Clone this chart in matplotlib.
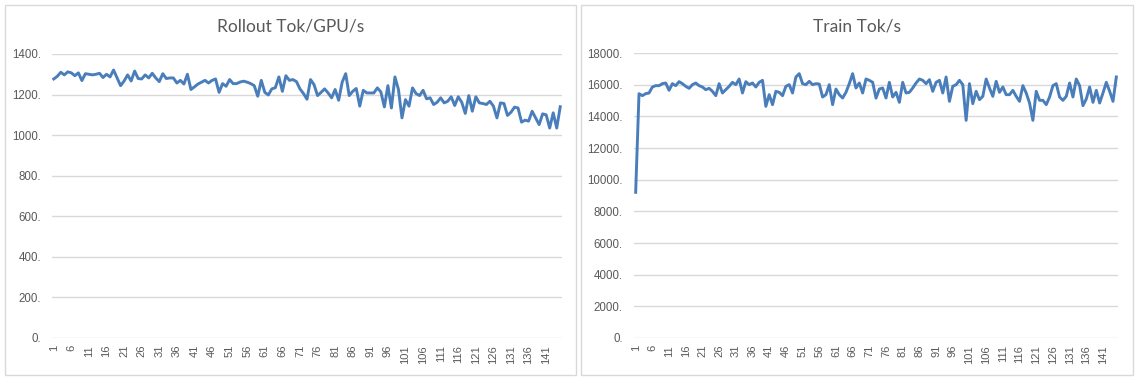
import numpy as np
import matplotlib
matplotlib.use('Agg')
import matplotlib.pyplot as plt
from matplotlib.patches import Rectangle

rollout = [1277, 1290, 1310, 1297, 1312, 1307, 1293, 1307, 1269, 1303,
           1300, 1297, 1300, 1305, 1284, 1300, 1287, 1321, 1282, 1244,
           1267, 1297, 1267, 1316, 1279, 1277, 1297, 1282, 1305, 1282,
           1264, 1303, 1279, 1282, 1282, 1257, 1270, 1252, 1300, 1225,
           1238, 1252, 1261, 1270, 1257, 1270, 1277, 1211, 1254, 1241,
           1274, 1254, 1254, 1262, 1266, 1261, 1254, 1244, 1192, 1270,
           1211, 1198, 1228, 1234, 1287, 1216, 1293, 1270, 1274, 1264,
           1228, 1205, 1177, 1274, 1249, 1195, 1211, 1228, 1208, 1184,
           1225, 1172, 1261, 1303, 1195, 1216, 1230, 1143, 1221, 1208,
           1208, 1208, 1233, 1213, 1139, 1244, 1134, 1287, 1225, 1085,
           1175, 1143, 1233, 1205, 1195, 1221, 1179, 1184, 1151, 1162,
           1184, 1159, 1167, 1189, 1146, 1189, 1162, 1107, 1195, 1118,
           1189, 1159, 1156, 1151, 1167, 1143, 1085, 1159, 1156, 1097,
           1113, 1138, 1134, 1064, 1074, 1069, 1118, 1085, 1052, 1105,
           1100, 1035, 1110, 1035, 1140]

train = [9200, 15432, 15305, 15432, 15474, 15853, 15937, 15937, 16063, 16105,
         15642, 16063, 15937, 16190, 16063, 15895, 15768, 16000, 16105, 15937,
         15853, 15684, 15768, 15579, 15305, 16063, 15474, 15684, 15895, 16147,
         16000, 16358, 15474, 16190, 16000, 16105, 15853, 16147, 16274, 14632,
         15368, 14737, 15579, 15516, 15305, 15895, 16000, 15474, 16484, 16695,
         16063, 16000, 16210, 16000, 16063, 16042, 15221, 15368, 16000, 14737,
         15726, 15368, 15158, 15516, 16063, 16695, 15789, 16105, 15474, 16358,
         16274, 16150, 15150, 15726, 15789, 15158, 16147, 15221, 15516, 14884,
         16147, 15474, 15516, 15789, 16105, 16358, 16274, 16063, 16316, 15579,
         16147, 16274, 15474, 16484, 14947, 15895, 16000, 16274, 16000, 13747,
         16063, 14800, 15579, 15053, 15263, 16358, 15789, 15263, 16210, 15516,
         15853, 15368, 15368, 15642, 15263, 14947, 15937, 15474, 14842, 13747,
         15579, 15011, 15011, 14737, 15221, 15937, 16063, 15221, 15011, 15263,
         16105, 15221, 16358, 15937, 14674, 15095, 15853, 14884, 15642, 14842,
         15474, 16147, 15579, 14947, 16484]

titles = ['Rollout Tok/GPU/s', 'Train Tok/s']
yticks_list = [list(range(0, 1401, 200)), list(range(0, 18001, 2000))]

W, H = 1142, 379
fig = plt.figure(figsize=(W / 100, H / 100), dpi=100)
fig.patch.set_facecolor('white')

line_color = '#4a7ebb'
grid_color = '#d9d9d9'
text_color = '#595959'

# outer chart boxes (pixels: x0, y0, x1, y1 from top-left)
boxes = [(5, 5, 576, 375), (581, 5, 1133, 375)]
# plot areas
areas = [(52, 54, 562, 338), (634, 53, 1118, 338)]

for k, series in enumerate([rollout, train]):
    bx0, by0, bx1, by1 = boxes[k]
    fig.add_artist(Rectangle((bx0 / W, 1 - by1 / H), (bx1 - bx0) / W, (by1 - by0) / H,
                             transform=fig.transFigure, fill=False,
                             edgecolor=grid_color, linewidth=1))
    x0, y0, x1, y1 = areas[k]
    ax = fig.add_axes([x0 / W, 1 - y1 / H, (x1 - x0) / W, (y1 - y0) / H])
    x = np.arange(1, len(series) + 1)
    ax.plot(x, series, color=line_color, linewidth=2.1, zorder=3)
    ax.set_xlim(0.5, len(series) + 0.5)
    yt = yticks_list[k]
    ax.set_ylim(yt[0], yt[-1])
    ax.set_yticks(yt)
    ax.set_yticklabels([f'{v}.' for v in yt], fontsize=8.3, color=text_color,
                       family='Liberation Sans')
    xt = list(range(1, len(series) + 1, 5))
    ax.set_xticks(xt)
    ax.set_xticklabels([str(v) for v in xt], rotation=90, fontsize=8,
                       color=text_color, family='Liberation Sans')
    ax.tick_params(axis='y', length=0, pad=8)
    ax.tick_params(axis='x', length=0, pad=5)
    ax.grid(axis='y', color=grid_color, linewidth=1)
    ax.set_axisbelow(True)
    for s in ax.spines.values():
        s.set_visible(False)
    fig.text((bx0 + bx1) / 2 / W, 1 - 27 / H, titles[k], ha='center', va='center',
             fontsize=12.5, color=text_color, family='Lato')

fig.savefig('out.png', dpi=100)
